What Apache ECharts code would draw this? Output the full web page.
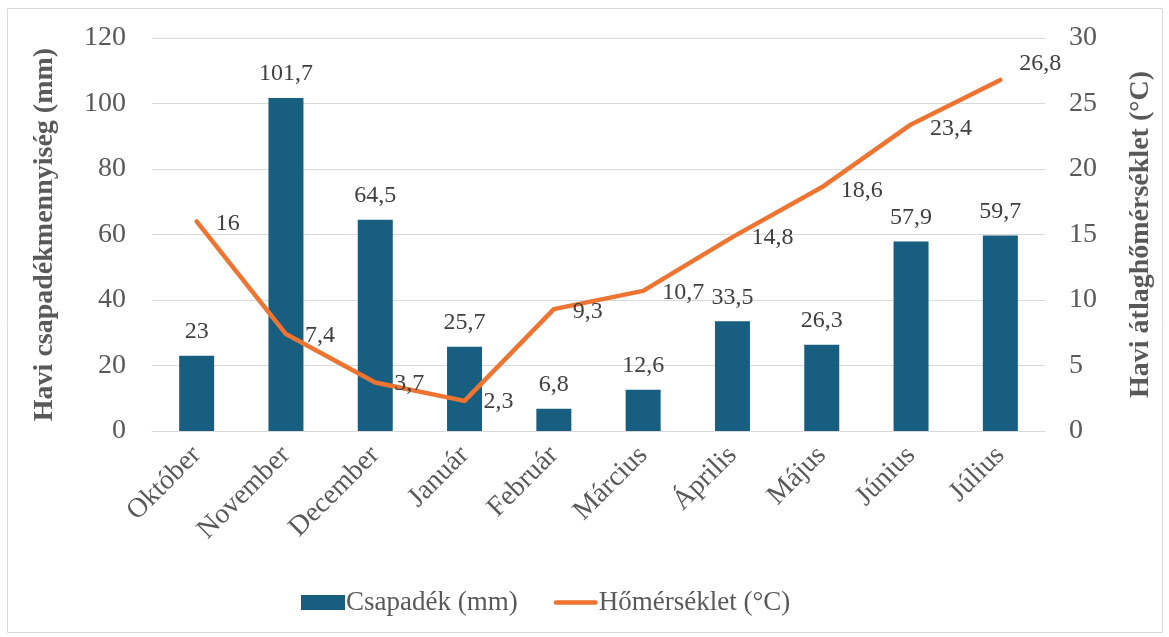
<!DOCTYPE html>
<html>
<head>
<meta charset="utf-8">
<script src="https://cdn.jsdelivr.net/npm/echarts@6/dist/echarts.min.js"></script>
<style>html,body{margin:0;padding:0;background:#fff}#c{width:1169px;height:637px}</style>
</head>
<body>
<div id="c"></div>
<script>
var categories = ['Október','November','December','Január','Február','Március','Április','Május','Június','Július'];
var precipitation = [23, 101.7, 64.5, 25.7, 6.8, 12.6, 33.5, 26.3, 57.9, 59.7];
var temperature = [16, 7.4, 3.7, 2.3, 9.3, 10.7, 14.8, 18.6, 23.4, 26.8];
var leftTicks = {min: 0, max: 120, interval: 20};
var rightTicks = {min: 0, max: 30, interval: 5};
var seriesNames = ['Csapadék (mm)', 'Hőmérséklet (°C)'];
var axisTitles = ['Havi csapadékmennyiség (mm)', 'Havi átlaghőmérséklet (°C)'];

// label offsets for the line labels (style only)
var lineLabelOffsets = [[0,2],[0,2],[0,1],[0,1],[0,3],[0,2],[0,1],[0,3],[0,4],[0,-16]];

var FONT = '"Liberation Serif", "DejaVu Serif", serif';
var fmt = function (p) { return String(p.value).replace('.', ','); };

var tempData = temperature.map(function (v, i) {
  return { value: v, label: { offset: lineLabelOffsets[i] } };
});

var chart = echarts.init(document.getElementById('c'), null, {renderer: 'canvas'});
chart.setOption({
  animation: false,
  backgroundColor: '#ffffff',
  textStyle: { fontFamily: FONT },
  graphic: [{
    type: 'rect', silent: true, z: -1,
    shape: { x: 7.5, y: 8.5, width: 1155, height: 624 },
    style: { fill: 'none', stroke: '#d9d9d9', lineWidth: 1 }
  }],
  grid: { left: 152, right: 124, top: 38, bottom: 206, containLabel: false },
  legend: {
    left: 296, top: 584,
    itemWidth: 44, itemHeight: 15, itemGap: 36,
    textStyle: { fontFamily: FONT, fontSize: 27, color: '#595959', padding: [0,0,0,-4] },
    data: [
      { name: seriesNames[0], icon: 'rect' },
      { name: seriesNames[1], icon: 'path://M2,0H38A2,2 0 0 1 38,4H2A2,2 0 0 1 2,0Z' }
    ]
  },
  xAxis: {
    type: 'category',
    data: categories,
    axisLine: { show: true, lineStyle: { color: '#d9d9d9', width: 1 } },
    axisTick: { show: false },
    axisLabel: { rotate: 45, fontFamily: FONT, fontSize: 28, color: '#595959', margin: 20, interval: 0 }
  },
  yAxis: [{
    type: 'value',
    min: leftTicks.min, max: leftTicks.max, interval: leftTicks.interval,
    name: axisTitles[0], nameLocation: 'middle', nameGap: 93, nameRotate: 90,
    nameTextStyle: { fontFamily: FONT, fontSize: 28, fontWeight: 'bold', color: '#595959' },
    axisLine: { show: false }, axisTick: { show: false },
    axisLabel: { fontFamily: FONT, fontSize: 28, color: '#595959', margin: 26 },
    splitLine: { lineStyle: { color: '#d9d9d9', width: 1 } }
  }, {
    type: 'value',
    min: rightTicks.min, max: rightTicks.max, interval: rightTicks.interval,
    name: axisTitles[1], nameLocation: 'middle', nameGap: 82, nameRotate: 90,
    nameTextStyle: { fontFamily: FONT, fontSize: 28, fontWeight: 'bold', color: '#595959' },
    axisLine: { show: false }, axisTick: { show: false },
    axisLabel: { fontFamily: FONT, fontSize: 28, color: '#595959', margin: 24 },
    splitLine: { show: false }
  }],
  series: [{
    name: seriesNames[0],
    type: 'bar',
    data: precipitation,
    barWidth: 35,
    itemStyle: { color: '#175e80' },
    label: { show: true, position: 'top', distance: 12, formatter: fmt,
             fontFamily: FONT, fontSize: 24, color: '#404040' }
  }, {
    name: seriesNames[1],
    type: 'line',
    yAxisIndex: 1,
    data: tempData,
    symbol: 'circle', symbolSize: 2, showSymbol: true,
    itemStyle: { color: '#ed7431' },
    lineStyle: { color: '#ed7431', width: 4.5, cap: 'round', join: 'round' },
    label: { show: true, position: 'right', distance: 18, formatter: fmt,
             fontFamily: FONT, fontSize: 24, color: '#404040' },
    z: 3
  }]
});
</script>
</body>
</html>
